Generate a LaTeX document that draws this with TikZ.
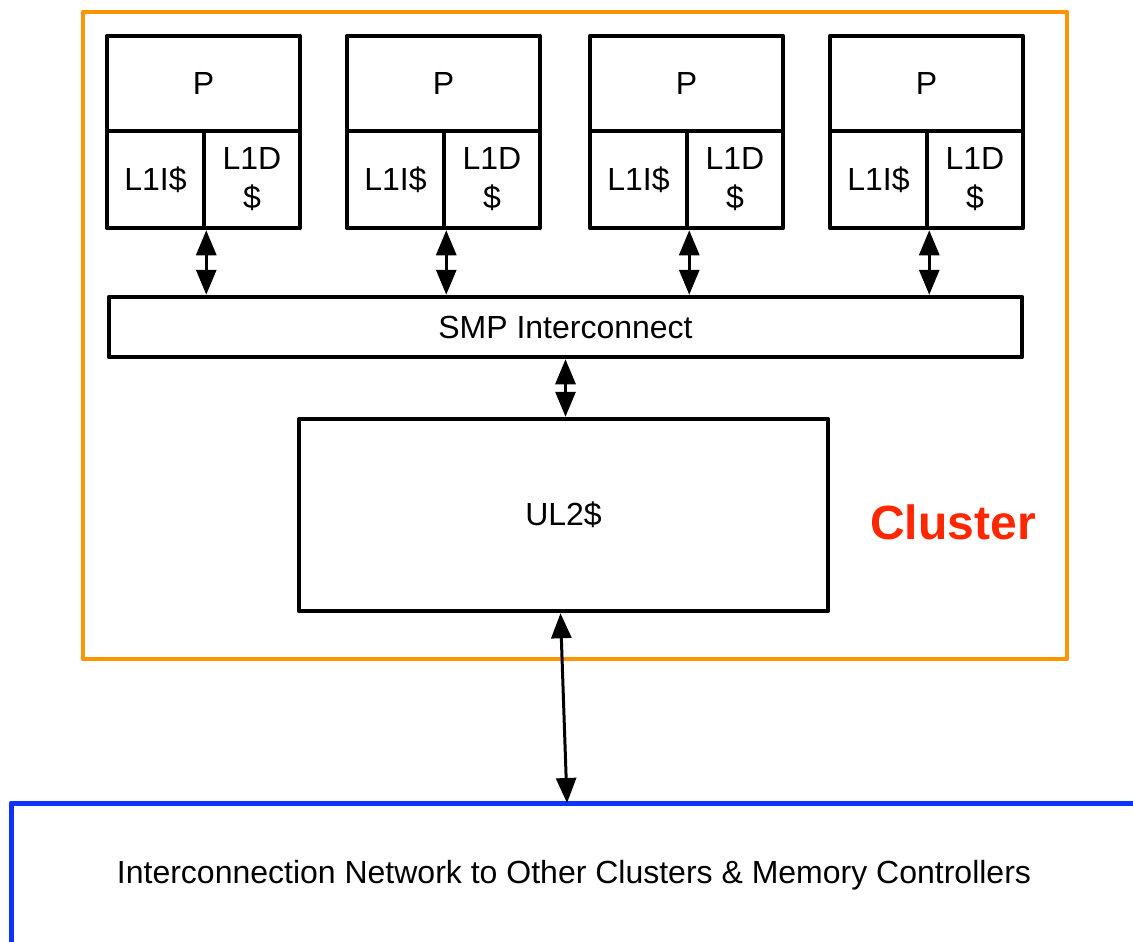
\documentclass[tikz,border=0pt]{standalone}
\usepackage{fontspec}
\setmainfont{Liberation Sans}
\usetikzlibrary{arrows.meta}

\definecolor{clusterorange}{HTML}{FF9300}
\definecolor{clusterred}{HTML}{FF2600}
\definecolor{netblue}{HTML}{0F33FF}

\begin{document}
\begin{tikzpicture}[x=1pt, y=-1pt, >={Triangle[length=25pt,width=20pt]},
    box/.style={draw, line width=4.5pt, line join=round, inner sep=0pt, align=center,
                font=\fontsize{32}{39}\selectfont},
    link/.style={<->, line width=3pt}]
    \useasboundingbox (0,0) rectangle (1133,942);

    % Cluster outline and label
    \draw [clusterorange, line width=4.5pt, line join=round] (83,12) rectangle (1067,659);
    \node [text=clusterred, font=\fontsize{48}{52}\selectfont\bfseries] (clusterlbl) at (953,522) {Cluster};

    % Processors {p, li, ld}
    \foreach \i/\x in {1/107, 2/347, 3/590, 4/830} {
        \node [box, minimum width=193pt, minimum height=95pt] (p\i)  at (\x+96.5, 83.5)  {P};
        \node [box, minimum width=97pt,  minimum height=97pt] (li\i) at (\x+48.5, 179.5) {L1I\$};
        \node [box, minimum width=96pt,  minimum height=97pt] (ld\i) at (\x+145, 179.5)  {L1D\\\$};
    }

    % Interconnect and L2
    \node [box, minimum width=913pt, minimum height=60pt]  (smp) at (565.5,327) {SMP Interconnect};
    \node [box, minimum width=529pt, minimum height=192pt] (ul2) at (563.5,515) {UL2\$};

    % Network
    \draw [netblue, line width=5pt, line join=round] (11,960) |- (1150,803);
    \node [font=\fontsize{32}{39}\selectfont] (net) at (574,875)
        {Interconnection Network to Other Clusters \& Memory Controllers};
    \coordinate (netin) at (567,803);

    % Paths
    \foreach \i in {1,...,4}
        \draw [link] (li\i.south east) -- (li\i.south east |- smp.north);
    \draw [link] (smp.south) -- (smp.south |- ul2.north);
    \draw [link] ([xshift=-3pt]ul2.south) -- (netin);

\end{tikzpicture}
\end{document}
